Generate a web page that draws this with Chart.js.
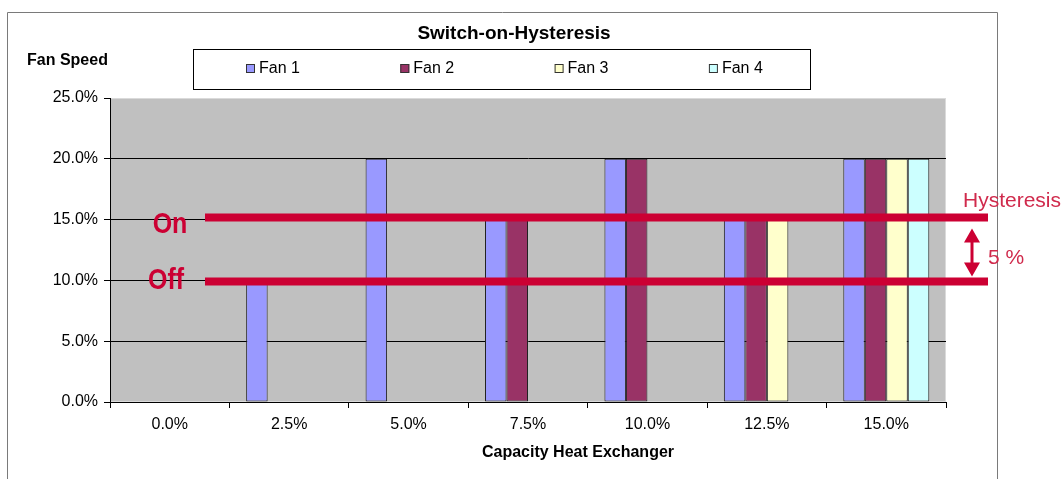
<!DOCTYPE html>
<html>
<head>
<meta charset="utf-8">
<title>Switch-on-Hysteresis</title>
<script src="https://cdn.jsdelivr.net/npm/chart.js@4/dist/chart.umd.min.js"></script>
<style>
  html, body { margin: 0; padding: 0; background: #fff; }
  #wrap { width: 1064px; height: 479px; position: relative; }
</style>
</head>
<body>
<div id="wrap"><canvas id="chart" width="1064" height="479"></canvas></div>
<script>
// capacity steps on the x axis
var capacityLabels = ["0.0%", "2.5%", "5.0%", "7.5%", "10.0%", "12.5%", "15.0%"];

// fan speed (%) per capacity step, one list per fan
var fan1 = [0, 10, 20, 15, 20, 15, 20];
var fan2 = [null, null, null, 15, 20, 15, 20];
var fan3 = [null, null, null, null, null, 15, 20];
var fan4 = [null, null, null, null, null, null, 20];

var fanNames = ["Fan 1", "Fan 2", "Fan 3", "Fan 4"];
var fanColors = ["#9999FF", "#993366", "#FFFFCC", "#CCFFFF"];

// y axis range
var speedMin = 0;
var speedMax = 25;
var speedStep = 5;

// switch levels
var switchOn = 15;
var switchOff = 10;
var hysteresisText = "5 %";

var RED = "#CC0033";
var FONT = "'Liberation Sans', Arial, Helvetica, sans-serif";

Chart.defaults.font.family = FONT;
Chart.defaults.color = "#000";

var fanSeries = [fan1, fan2, fan3, fan4];
var datasets = fanSeries.map(function (values, i) {
  return {
    label: fanNames[i],
    data: values,
    backgroundColor: fanColors[i],
    borderColor: "#222",
    borderWidth: 1,
    borderSkipped: false,
    categoryPercentage: 0.72,
    barPercentage: 1.0
  };
});

// frame, plot background, legend, titles and the hysteresis marks
var decorations = {
  id: "decorations",
  beforeDraw: function (chart) {
    var ctx = chart.ctx;
    var a = chart.chartArea;
    ctx.save();
    ctx.fillStyle = "#fff";
    ctx.fillRect(0, 0, chart.width, chart.height);

    // outer frame (open at the bottom)
    ctx.strokeStyle = "#7a7a7a";
    ctx.lineWidth = 1;
    ctx.beginPath();
    ctx.moveTo(7.5, chart.height);
    ctx.lineTo(7.5, 12.5);
    ctx.lineTo(997.5, 12.5);
    ctx.lineTo(997.5, chart.height);
    ctx.stroke();

    // grey plot area
    ctx.fillStyle = "#C0C0C0";
    ctx.fillRect(a.left, a.top, a.right - a.left, a.bottom - a.top);
    ctx.strokeStyle = "#dadada";
    ctx.strokeRect(a.left + 0.5, a.top + 0.5, a.right - a.left - 1, a.bottom - a.top - 1);
    ctx.restore();
  },
  afterDatasetsDraw: function (chart) {
    var ctx = chart.ctx;
    var y = chart.scales.y;
    var onY = y.getPixelForValue(switchOn);
    var offY = y.getPixelForValue(switchOff);
    ctx.save();

    // switch lines
    ctx.strokeStyle = RED;
    ctx.lineWidth = 8;
    ctx.beginPath();
    ctx.moveTo(205, onY - 2);
    ctx.lineTo(988, onY - 2);
    ctx.moveTo(205, offY + 1);
    ctx.lineTo(988, offY + 1);
    ctx.stroke();

    // On / Off labels
    ctx.fillStyle = RED;
    ctx.textAlign = "center";
    ctx.textBaseline = "middle";
    ctx.font = "bold 25px " + FONT;
    ctx.save();
    ctx.translate(170, onY + 5);
    ctx.scale(1, 1.15);
    ctx.fillText("On", 0, 0);
    ctx.restore();
    ctx.save();
    ctx.translate(166, offY + 1);
    ctx.scale(1, 1.15);
    ctx.fillText("Off", 0, 0);
    ctx.restore();

    // double arrow between the levels
    var ax = 972;
    var top = onY + 9;
    var bot = offY - 4;
    ctx.beginPath();
    ctx.moveTo(ax, top);
    ctx.lineTo(ax + 8, top + 14);
    ctx.lineTo(ax - 8, top + 14);
    ctx.closePath();
    ctx.moveTo(ax, bot);
    ctx.lineTo(ax + 8, bot - 14);
    ctx.lineTo(ax - 8, bot - 14);
    ctx.closePath();
    ctx.fill();
    ctx.lineWidth = 3;
    ctx.strokeStyle = RED;
    ctx.beginPath();
    ctx.moveTo(ax, top + 10);
    ctx.lineTo(ax, bot - 10);
    ctx.stroke();

    ctx.fillStyle = "#D02A4C";
    ctx.font = "21px " + FONT;
    ctx.textAlign = "left";
    ctx.fillText("Hysteresis", 963, onY - 18);
    ctx.fillText(hysteresisText, 988, (onY + offY) / 2 + 8);
    ctx.restore();
  },
  afterDraw: function (chart) {
    var ctx = chart.ctx;
    ctx.save();
    ctx.fillStyle = "#000";
    ctx.textBaseline = "middle";

    ctx.textAlign = "center";
    ctx.font = "bold 19px " + FONT;
    ctx.fillText("Switch-on-Hysteresis", 514, 34);

    ctx.font = "bold 16px " + FONT;
    ctx.fillText("Capacity Heat Exchanger", 578, 453);

    ctx.textAlign = "left";
    ctx.fillText("Fan Speed", 27, 61);

    // legend box
    ctx.strokeStyle = "#000";
    ctx.lineWidth = 1;
    ctx.strokeRect(193.5, 49.5, 617, 40);
    ctx.font = "16px " + FONT;
    chart.data.datasets.forEach(function (ds, i) {
      var bx = 246 + i * 154.3;
      ctx.fillStyle = ds.backgroundColor;
      ctx.fillRect(bx, 64, 9, 9);
      ctx.strokeStyle = "#333";
      ctx.strokeRect(bx + 0.5, 64.5, 8, 8);
      ctx.fillStyle = "#000";
      ctx.fillText(ds.label, bx + 13, 69);
    });
    ctx.restore();
  }
};

new Chart(document.getElementById("chart"), {
  type: "bar",
  data: { labels: capacityLabels, datasets: datasets },
  options: {
    responsive: false,
    animation: false,
    layout: { padding: { left: 0, top: 98, right: 118, bottom: 0 } },
    plugins: {
      legend: { display: false },
      title: { display: false },
      tooltip: { enabled: false }
    },
    scales: {
      x: {
        offset: true,
        grid: {
          offset: true,
          drawOnChartArea: false,
          drawTicks: true,
          tickLength: 6,
          color: "#000",
          tickColor: "#000"
        },
        border: { display: true, color: "#000", width: 1 },
        ticks: { padding: 7, font: { size: 16 }, color: "#000", maxRotation: 0 },
        afterFit: function (scale) { scale.height = 77; }
      },
      y: {
        min: speedMin,
        max: speedMax,
        grid: {
          color: function (c) {
            return c.tick && c.tick.value === speedMax ? "rgba(0,0,0,0)" : "#000";
          },
          tickColor: "#000",
          tickLength: 6,
          lineWidth: 1
        },
        border: { display: true, color: "#000", width: 1 },
        ticks: {
          stepSize: speedStep,
          padding: 6,
          font: { size: 16 },
          color: "#000",
          callback: function (v) { return v.toFixed(1) + "%"; }
        },
        afterFit: function (scale) { scale.width = 110; }
      }
    }
  },
  plugins: [decorations]
});
</script>
</body>
</html>
